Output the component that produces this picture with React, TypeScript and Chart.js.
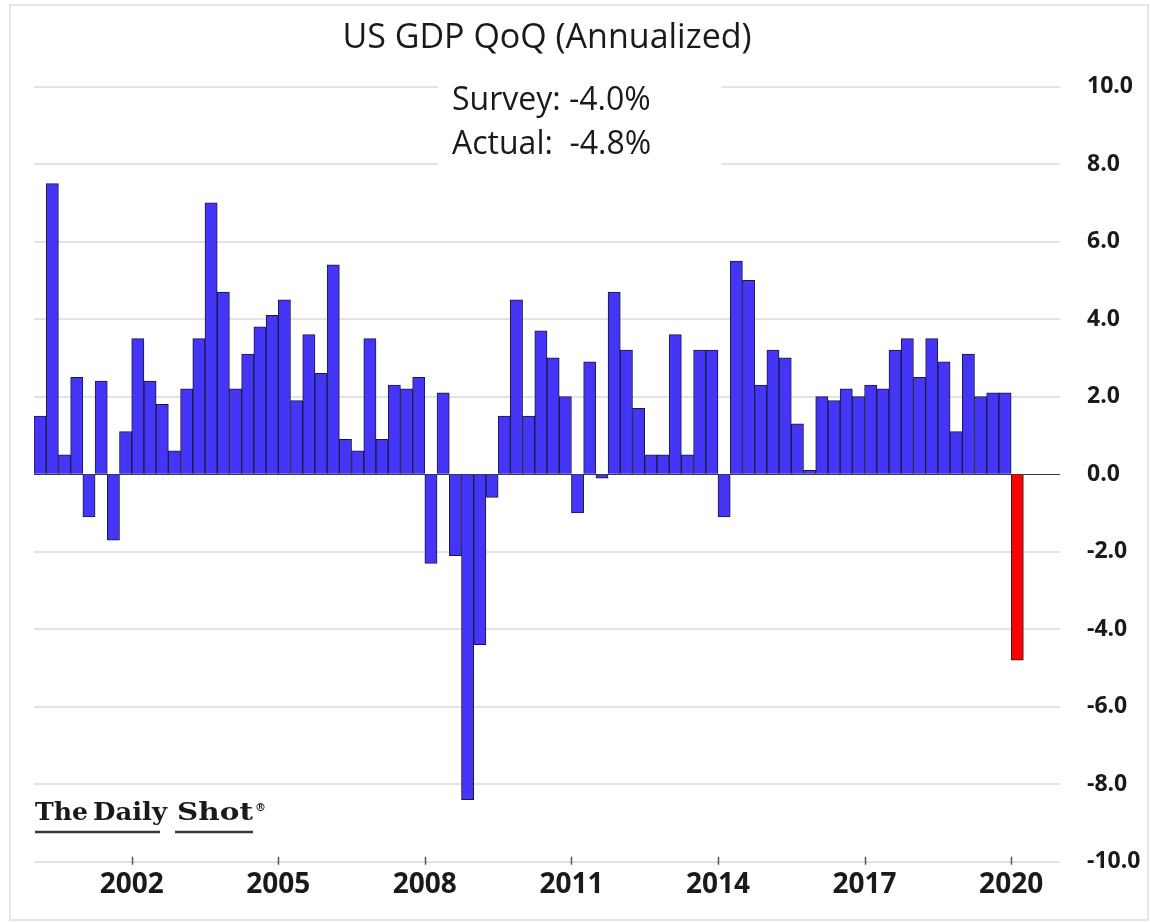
import React, { useEffect, useRef } from 'react';
import { Chart, registerables } from 'chart.js';

Chart.register(...registerables);

// ---- data ----
const startYear = 2000;
// US real GDP, QoQ annualized %, 2000 Q1 .. 2020 Q1
const gdpQoQ: number[] = [
  1.5, 7.5, 0.5, 2.5, // 2000
  -1.1, 2.4, -1.7, 1.1, // 2001
  3.5, 2.4, 1.8, 0.6, // 2002
  2.2, 3.5, 7.0, 4.7, // 2003
  2.2, 3.1, 3.8, 4.1, // 2004
  4.5, 1.9, 3.6, 2.6, // 2005
  5.4, 0.9, 0.6, 3.5, // 2006
  0.9, 2.3, 2.2, 2.5, // 2007
  -2.3, 2.1, -2.1, -8.4, // 2008
  -4.4, -0.6, 1.5, 4.5, // 2009
  1.5, 3.7, 3.0, 2.0, // 2010
  -1.0, 2.9, -0.1, 4.7, // 2011
  3.2, 1.7, 0.5, 0.5, // 2012
  3.6, 0.5, 3.2, 3.2, // 2013
  -1.1, 5.5, 5.0, 2.3, // 2014
  3.2, 3.0, 1.3, 0.1, // 2015
  2.0, 1.9, 2.2, 2.0, // 2016
  2.3, 2.2, 3.2, 3.5, // 2017
  2.5, 3.5, 2.9, 1.1, // 2018
  3.1, 2.0, 2.1, 2.1, // 2019
  -4.8, // 2020
];
const tickYears: number[] = [2002, 2005, 2008, 2011, 2014, 2017, 2020];
const yTickValues: number[] = [10, 8, 6, 4, 2, 0, -2, -4, -6, -8, -10];
const axisEndYear = 2021;

const titleText = 'US GDP QoQ (Annualized)';
const surveyText = 'Survey: -4.0%';
const actualText = 'Actual:  -4.8%';
const sourceWords = ['The', 'Daily', 'Shot'];

const barColor = '#4536F7';
const latestColor = '#FF0000';
const barEdge = '#1A1A36';

export default function App() {
  const ref = useRef<HTMLCanvasElement>(null);

  useEffect(() => {
    const canvas = ref.current;
    if (!canvas) return;
    const W = 1150;
    const H = 923;

    const decor = {
      id: 'decor',
      beforeDraw(chart: any) {
        const ctx = chart.ctx;
        ctx.save();
        ctx.fillStyle = '#ffffff';
        ctx.fillRect(0, 0, W, H);
        ctx.restore();
      },
      beforeDatasetsDraw(chart: any) {
        const ctx = chart.ctx;
        ctx.save();
        ctx.fillStyle = '#ffffff';
        ctx.fillRect(438, 78, 283, 96);
        ctx.fillStyle = '#1a1a1a';
        ctx.font = '32px "Open Sans"';
        ctx.textAlign = 'left';
        ctx.textBaseline = 'middle';
        ctx.fillText(surveyText, 452, 101);
        ctx.fillText(actualText, 452, 145);
        ctx.restore();
      },
      afterDraw(chart: any) {
        const ctx = chart.ctx;
        const xs = chart.scales.x;
        const area = chart.chartArea;
        ctx.save();
        // x tick marks crossing the axis line
        ctx.strokeStyle = '#555555';
        ctx.lineWidth = 1.5;
        xs.ticks.forEach((t: any) => {
          const px = Math.round(xs.getPixelForValue(t.value)) + 0.5;
          ctx.beginPath();
          ctx.moveTo(px, area.bottom - 5);
          ctx.lineTo(px, area.bottom + 3);
          ctx.stroke();
        });

        // watermark: each word stretched to its slot width
        ctx.fillStyle = '#1a1a1a';
        ctx.font = 'bold 24px "DejaVu Serif"';
        ctx.textAlign = 'left';
        ctx.textBaseline = 'alphabetic';
        const wordX = [35, 93, 177];
        const wordW = [53, 74, 76];
        sourceWords.forEach((word, i) => {
          const nat = ctx.measureText(word).width;
          ctx.save();
          ctx.translate(wordX[i], 820);
          ctx.scale(wordW[i] / nat, 1);
          ctx.fillText(word, 0, 0);
          ctx.restore();
        });
        ctx.font = 'bold 11px "DejaVu Serif"';
        ctx.fillText('\u00AE', 255, 811);
        ctx.strokeStyle = '#3a3a3a';
        ctx.lineWidth = 2.5;
        ctx.beginPath();
        ctx.moveTo(35, 832);
        ctx.lineTo(160, 832);
        ctx.moveTo(175, 832);
        ctx.lineTo(253, 832);
        ctx.stroke();

        // outer frame
        ctx.strokeStyle = '#e6e6e6';
        ctx.lineWidth = 2;
        ctx.strokeRect(10, 5, 1138, 915);
        ctx.restore();
      },
    };

    const chart = new Chart(canvas, {
      type: 'bar',
      data: {
        datasets: [
          {
            data: gdpQoQ.map((v, i) => ({ x: i + 0.5, y: v })),
            backgroundColor: gdpQoQ.map((_, i) => (i === gdpQoQ.length - 1 ? latestColor : barColor)),
            borderColor: barEdge,
            borderWidth: 1,
            barPercentage: 1,
            categoryPercentage: 1,
          },
        ],
      },
      options: {
        animation: false,
        responsive: false,
        maintainAspectRatio: false,
        devicePixelRatio: 1,
        layout: { padding: { left: 34, right: 0, top: 0, bottom: 0 } },
        plugins: {
          legend: { display: false },
          tooltip: { enabled: false },
          title: {
            display: true,
            text: titleText,
            fullSize: false,
            color: '#1a1a1a',
            font: { family: '"Open Sans"', size: 34, weight: 'normal', lineHeight: 1.2 },
            padding: { top: 17.5, bottom: 28.4 },
          },
        },
        scales: {
          x: {
            type: 'linear',
            offset: false,
            min: 0,
            max: (axisEndYear - startYear) * 4,
            afterBuildTicks: (s: any) => {
              s.ticks = tickYears.map((y) => ({ value: (y - startYear) * 4 }));
            },
            afterFit: (s: any) => {
              s.height = 61.3;
            },
            ticks: {
              autoSkip: false,
              maxRotation: 0,
              padding: 7,
              color: '#1a1a1a',
              font: { family: '"Open Sans"', size: 28, weight: 'bold', lineHeight: 1.2 },
              callback: (v: any) => String(startYear + Number(v) / 4),
            },
            grid: { display: false, drawTicks: false, offset: false },
            border: { display: false },
          },
          y: {
            position: 'right',
            min: -10,
            max: 10,
            afterBuildTicks: (s: any) => {
              s.ticks = yTickValues.map((v) => ({ value: v }));
            },
            afterFit: (s: any) => {
              s.width = 90;
            },
            ticks: {
              padding: 27,
              color: '#1a1a1a',
              font: { family: '"Open Sans"', size: 23, weight: 'bold', lineHeight: 1.2 },
              callback: (v: any) => Number(v).toFixed(1),
            },
            grid: {
              drawTicks: false,
              color: (c: any) => (c.tick && c.tick.value === 0 ? '#3a3a3a' : '#e3e3e3'),
              lineWidth: (c: any) => (c.tick && c.tick.value === 0 ? 1 : 2),
            },
            border: { display: false },
          },
        },
      },
      plugins: [decor],
    } as any);

    return () => {
      chart.destroy();
    };
  }, []);

  return (
    <div style={{ position: 'fixed', left: 0, top: 0, width: 1150, height: 923, background: '#fff' }}>
      <canvas ref={ref} width={1150} height={923} style={{ display: 'block', width: 1150, height: 923 }} />
    </div>
  );
}
